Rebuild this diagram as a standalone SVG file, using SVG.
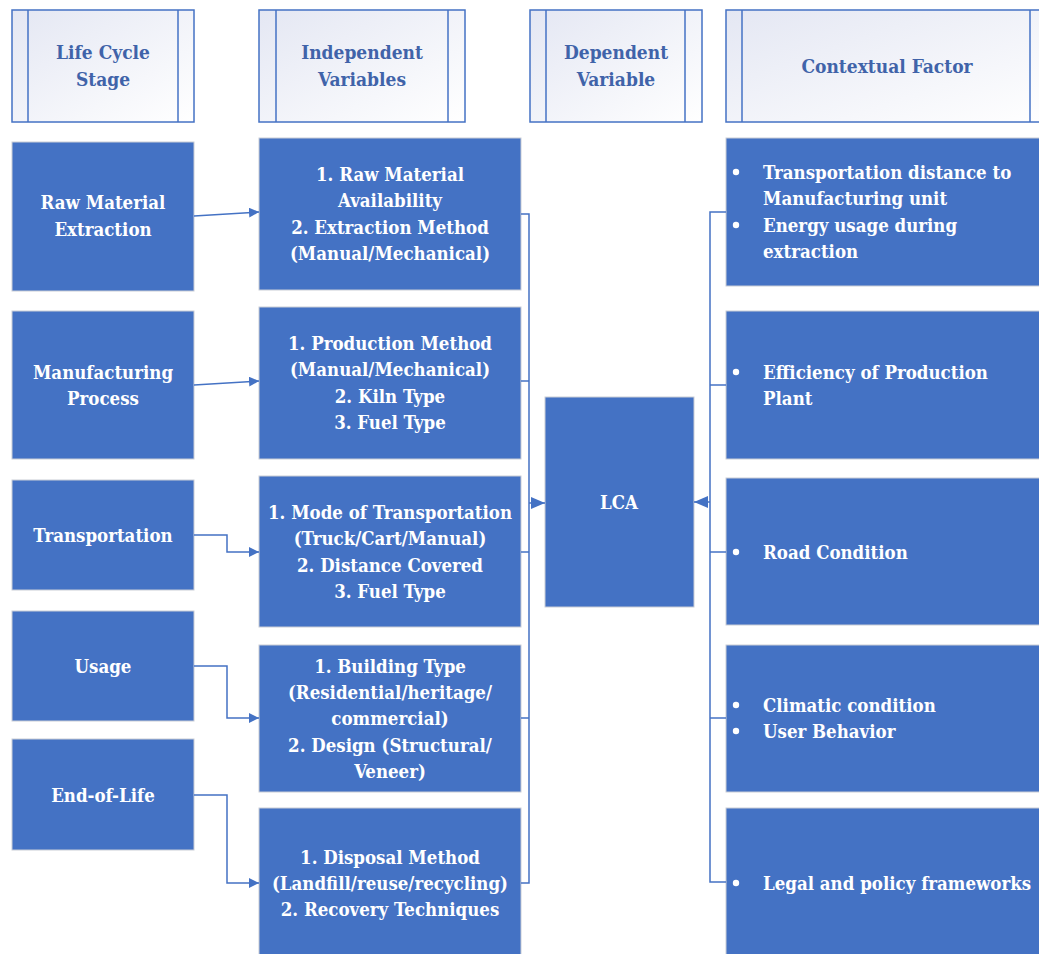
<svg xmlns="http://www.w3.org/2000/svg" width="1039" height="954" viewBox="0 0 1039 954" font-family="DejaVu Serif Condensed, DejaVu Serif, serif">
<style>
.hdr{fill:url(#hg);stroke:#4472c4;stroke-width:1.5}
.hl{stroke:#4472c4;stroke-width:1.5}
.ht{font-weight:bold;font-size:19px;fill:#4063a9;text-anchor:middle}
.box{fill:#4472c4;stroke:#c9cdd6;stroke-width:1}
.t{font-weight:bold;font-size:18.5px;fill:#ffffff;text-anchor:middle}
.tl{font-weight:bold;font-size:18.5px;fill:#ffffff}
.c{fill:none;stroke:#4472c4;stroke-width:1.5}
.dot{fill:#ffffff}
</style>
<defs>
<linearGradient id="hg" x1="0" y1="0" x2="1" y2="1">
<stop offset="0" stop-color="#e4e7f3"/>
<stop offset="1" stop-color="#ffffff"/>
</linearGradient>
<marker id="ar" viewBox="0 0 10 10" refX="10" refY="5" markerWidth="10" markerHeight="10" markerUnits="userSpaceOnUse" orient="auto">
<path d="M0,0 L10,5 L0,10 z" fill="#4472c4"/>
</marker>
<marker id="ar2" viewBox="0 0 14 12" refX="14" refY="6" markerWidth="14" markerHeight="12" markerUnits="userSpaceOnUse" orient="auto">
<path d="M0,0 L14,6 L0,12 z" fill="#4472c4"/>
</marker>
</defs>

<g id="header-lifecycle">
<rect class="hdr" x="12" y="10" width="182" height="112"/>
<line class="hl" x1="28" y1="10" x2="28" y2="122"/>
<line class="hl" x1="178" y1="10" x2="178" y2="122"/>
<text class="ht" x="103" y="59">Life Cycle</text>
<text class="ht" x="103" y="86">Stage</text>
</g>
<g id="header-independent">
<rect class="hdr" x="259" y="10" width="206" height="112"/>
<line class="hl" x1="276" y1="10" x2="276" y2="122"/>
<line class="hl" x1="448" y1="10" x2="448" y2="122"/>
<text class="ht" x="362" y="59">Independent</text>
<text class="ht" x="362" y="86">Variables</text>
</g>
<g id="header-dependent">
<rect class="hdr" x="530" y="10" width="172" height="112"/>
<line class="hl" x1="546" y1="10" x2="546" y2="122"/>
<line class="hl" x1="685" y1="10" x2="685" y2="122"/>
<text class="ht" x="616" y="59">Dependent</text>
<text class="ht" x="616" y="86">Variable</text>
</g>
<g id="header-contextual">
<rect class="hdr" x="726" y="10" width="330" height="112"/>
<line class="hl" x1="742" y1="10" x2="742" y2="122"/>
<line class="hl" x1="1030" y1="10" x2="1030" y2="122"/>
<text class="ht" x="887" y="73">Contextual Factor</text>
</g>

<g id="ls-raw">
<rect class="box" x="12" y="142" width="182" height="149"/>
<text class="t" x="103" y="209">Raw Material</text>
<text class="t" x="103" y="236">Extraction</text>
</g>
<g id="ls-manufacturing">
<rect class="box" x="12" y="311" width="182" height="148"/>
<text class="t" x="103" y="379">Manufacturing</text>
<text class="t" x="103" y="405">Process</text>
</g>
<g id="ls-transportation">
<rect class="box" x="12" y="480" width="182" height="110"/>
<text class="t" x="103" y="542">Transportation</text>
</g>
<g id="ls-usage">
<rect class="box" x="12" y="611" width="182" height="110"/>
<text class="t" x="103" y="673">Usage</text>
</g>
<g id="ls-eol">
<rect class="box" x="12" y="739" width="182" height="111"/>
<text class="t" x="103" y="802">End-of-Life</text>
</g>

<g id="iv-1">
<rect class="box" x="259" y="138" width="262" height="152"/>
<text class="t" x="390" y="181">1. Raw Material</text>
<text class="t" x="390" y="207">Availability</text>
<text class="t" x="390" y="234">2. Extraction Method</text>
<text class="t" x="390" y="260">(Manual/Mechanical)</text>
</g>
<g id="iv-2">
<rect class="box" x="259" y="307" width="262" height="152"/>
<text class="t" x="390" y="350">1. Production Method</text>
<text class="t" x="390" y="376">(Manual/Mechanical)</text>
<text class="t" x="390" y="403">2. Kiln Type</text>
<text class="t" x="390" y="429">3. Fuel Type</text>
</g>
<g id="iv-3">
<rect class="box" x="259" y="476" width="262" height="151"/>
<text class="t" x="390" y="519">1. Mode of Transportation</text>
<text class="t" x="390" y="545">(Truck/Cart/Manual)</text>
<text class="t" x="390" y="572">2. Distance Covered</text>
<text class="t" x="390" y="598">3. Fuel Type</text>
</g>
<g id="iv-4">
<rect class="box" x="259" y="645" width="262" height="147"/>
<text class="t" x="390" y="673">1. Building Type</text>
<text class="t" x="390" y="699">(Residential/heritage/</text>
<text class="t" x="390" y="725">commercial)</text>
<text class="t" x="390" y="752">2. Design (Structural/</text>
<text class="t" x="390" y="778">Veneer)</text>
</g>
<g id="iv-5">
<rect class="box" x="259" y="808" width="262" height="152"/>
<text class="t" x="390" y="864">1. Disposal Method</text>
<text class="t" x="390" y="890">(Landfill/reuse/recycling)</text>
<text class="t" x="390" y="916">2. Recovery Techniques</text>
</g>

<g id="lca">
<rect class="box" x="545" y="397" width="149" height="210"/>
<text class="t" x="619" y="509">LCA</text>
</g>

<g id="cf-1">
<rect class="box" x="726" y="138" width="330" height="148"/>
<circle class="dot" cx="736" cy="172" r="3.2"/>
<text class="tl" x="763" y="179">Transportation distance to</text>
<text class="tl" x="763" y="205">Manufacturing unit</text>
<circle class="dot" cx="736" cy="225" r="3.2"/>
<text class="tl" x="763" y="232">Energy usage during</text>
<text class="tl" x="763" y="258">extraction</text>
</g>
<g id="cf-2">
<rect class="box" x="726" y="311" width="330" height="148"/>
<circle class="dot" cx="736" cy="372" r="3.2"/>
<text class="tl" x="763" y="379">Efficiency of Production</text>
<text class="tl" x="763" y="405">Plant</text>
</g>
<g id="cf-3">
<rect class="box" x="726" y="478" width="330" height="147"/>
<circle class="dot" cx="736" cy="552" r="3.2"/>
<text class="tl" x="763" y="559">Road Condition</text>
</g>
<g id="cf-4">
<rect class="box" x="726" y="645" width="330" height="147"/>
<circle class="dot" cx="736" cy="705" r="3.2"/>
<text class="tl" x="763" y="712">Climatic condition</text>
<circle class="dot" cx="736" cy="731" r="3.2"/>
<text class="tl" x="763" y="738">User Behavior</text>
</g>
<g id="cf-5">
<rect class="box" x="726" y="808" width="330" height="152"/>
<circle class="dot" cx="736" cy="883" r="3.2"/>
<text class="tl" x="763" y="890">Legal and policy frameworks</text>
</g>

<g id="connectors">
<path class="c" d="M194,216 L259,212" marker-end="url(#ar)"/>
<path class="c" d="M194,385 L259,381" marker-end="url(#ar)"/>
<path class="c" d="M194,535 H227 V552 H259" marker-end="url(#ar)"/>
<path class="c" d="M194,666 H227 V718 H259" marker-end="url(#ar)"/>
<path class="c" d="M194,795 H227 V883 H259" marker-end="url(#ar)"/>
<path class="c" d="M521,214 H529 V883 H521"/>
<path class="c" d="M521,381 H529"/>
<path class="c" d="M521,552 H529"/>
<path class="c" d="M521,718 H529"/>
<path class="c" d="M529,503 H545" marker-end="url(#ar2)"/>
<path class="c" d="M726,212 H710 V882 H726"/>
<path class="c" d="M726,385 H710"/>
<path class="c" d="M726,552 H710"/>
<path class="c" d="M726,718 H710"/>
<path class="c" d="M710,502 H694" marker-end="url(#ar2)"/>
</g>
</svg>
